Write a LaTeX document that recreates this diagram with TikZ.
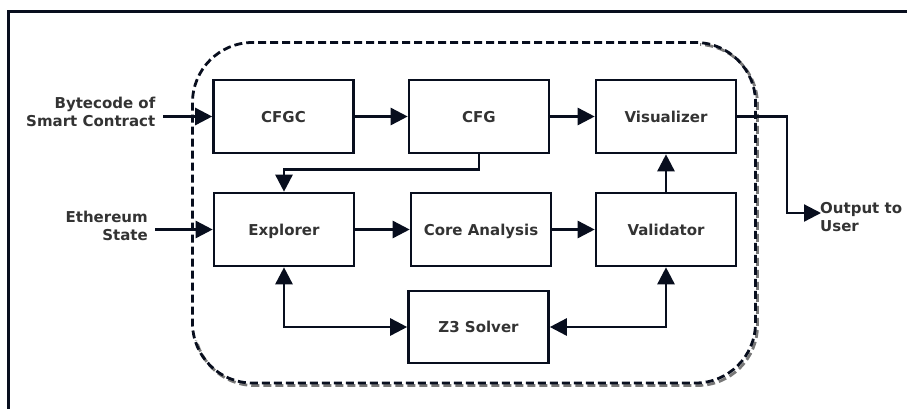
\documentclass[tikz,border=0pt]{standalone}
\usepackage{fontspec}
\setmainfont{DejaVu Sans}
\usetikzlibrary{arrows.meta}
\definecolor{ink}{RGB}{8,14,30}
\definecolor{txt}{RGB}{51,51,51}
\definecolor{shadowgray}{RGB}{120,120,120}
\begin{document}
\begin{tikzpicture}[x=1pt,y=-1pt,
  lbl/.style={font=\bfseries\fontsize{15}{18}\selectfont, text=txt, inner sep=0pt},
  box/.style={lbl, draw=ink, line width=2.6pt, fill=white,
    minimum width=140pt, minimum height=73pt, text height=11pt, text depth=0pt},
  arr/.style={draw=ink, line width=2.6pt, -{Triangle[length=17pt,width=17pt]}},
  biarr/.style={draw=ink, line width=2.6pt,
    {Triangle[length=17pt,width=17pt]}-{Triangle[length=17pt,width=17pt]}}
]
\useasboundingbox (0,0) rectangle (907,408);

% outer frame (runs off the page on the right and bottom)
\draw[ink, line width=3pt] (8.5,430) -- (8.5,11.3) -- (930,11.3);

% dashed container; its shadow only falls to the right and below
\begin{scope}
  \clip (700,0) -- (907,0) -- (907,408) -- (0,408) -- (0,340) -- (700,340) -- cycle;
  \draw[shadowgray, line width=2.8pt, dash pattern=on 8pt off 4pt, rounded corners=60pt]
    (194.5,44.5) rectangle (757.5,385.5);
\end{scope}
\draw[ink, line width=2.8pt, dash pattern=on 8pt off 4pt, rounded corners=60pt]
  (192.5,42.5) rectangle (755.5,383);

% processing blocks
\node[box] (CFGC) at (283.5,116.5) {CFGC};
\node[box] (CFG) at (479,116.5) {CFG};
\node[box] (Vis) at (666,116.5) {Visualizer};
\node[box] (Exp) at (284,229.5) {Explorer};
\node[box] (Core) at (481,229.5) {Core Analysis};
\node[box] (Val) at (666,229.5) {Validator};
\node[box, minimum height=72pt] (Z3) at (478.5,327) {Z3 Solver};

% external inputs and output
\node[lbl, align=right, anchor=east] (bc) at (155.5,112) {Bytecode of\\Smart Contract};
\node[lbl, align=right, anchor=east] (eth) at (148,225.5) {Ethereum\\State};
\node[lbl, align=left, anchor=west] (out) at (820,217.5) {Output to\\User};
\coordinate (bcin) at (163,116.5);
\coordinate (ethin) at (155,229.5);
\coordinate (outtip) at (821,213);

% connectors
\draw[arr] (bcin) -- (CFGC.west);
\draw[arr] (ethin) -- (Exp.west);
\draw[arr] (CFGC) -- (CFG);
\draw[arr] (CFG) -- (Vis);
\draw[arr] (Exp) -- (Core);
\draw[arr] (Core) -- (Val);
\draw[arr] (CFG.south) -- ++(0,15) -| (Exp.north);
\draw[arr] (Val.north) -- (Vis.south);
\draw[biarr] (Exp.south) |- (Z3.west);
\draw[biarr] (Val.south) |- (Z3.east);
\draw[arr, line width=2.2pt] (Vis.east) -- ++(50,0) |- (outtip);
\end{tikzpicture}
\end{document}
